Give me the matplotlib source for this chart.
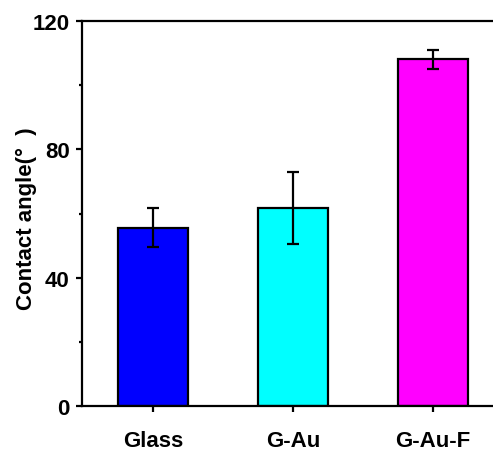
import matplotlib
matplotlib.use('Agg')
import matplotlib.pyplot as plt
from matplotlib.ticker import MultipleLocator

# values
samples=['Glass','G-Au','G-Au-F']
angle=[55.6,61.8,108.1]
err_lo=[6.0,11.3,3.0]
err_hi=[6.0,11.2,3.0]
colors=['#0000FF','#00FFFF','#FF00FF']

plt.rcParams['font.family']=['Liberation Sans','DejaVu Sans']
plt.rcParams['font.weight']='bold'

fig=plt.figure(figsize=(4.93,4.52),dpi=100)
ax=fig.add_axes([82/493,45/452,421/493,385/452])

x=[1,2,3]
ax.bar(x,angle,width=0.5,color=colors,edgecolor='black',linewidth=1.6,zorder=2)
ax.errorbar(x,angle,yerr=[err_lo,err_hi],fmt='none',ecolor='black',
            elinewidth=1.6,capsize=4,capthick=1.6,zorder=3)

ax.set_xlim(0.49,3.5)
ax.set_ylim(0,120)
ax.set_xticks(x)
ax.set_xticklabels(samples)
ax.yaxis.set_major_locator(MultipleLocator(40))
ax.yaxis.set_minor_locator(MultipleLocator(20))

for s in ['left','bottom','top']:
    ax.spines[s].set_linewidth(1.6)
ax.spines['right'].set_visible(False)

ax.tick_params(axis='x',which='major',direction='out',length=4,width=1.6,
               labelsize=16,pad=13)
ax.tick_params(axis='y',which='major',direction='out',length=4,width=1.6,
               labelsize=16,pad=5)
ax.tick_params(axis='y',which='minor',direction='out',length=2,width=1.6)
for lab in ax.get_xticklabels()+ax.get_yticklabels():
    lab.set_fontweight('bold')

ax.set_ylabel('Contact angle(°  )',fontsize=16,fontweight='bold')
ax.yaxis.set_label_coords(-0.106,0.49)

fig.savefig('out.png',dpi=100)
